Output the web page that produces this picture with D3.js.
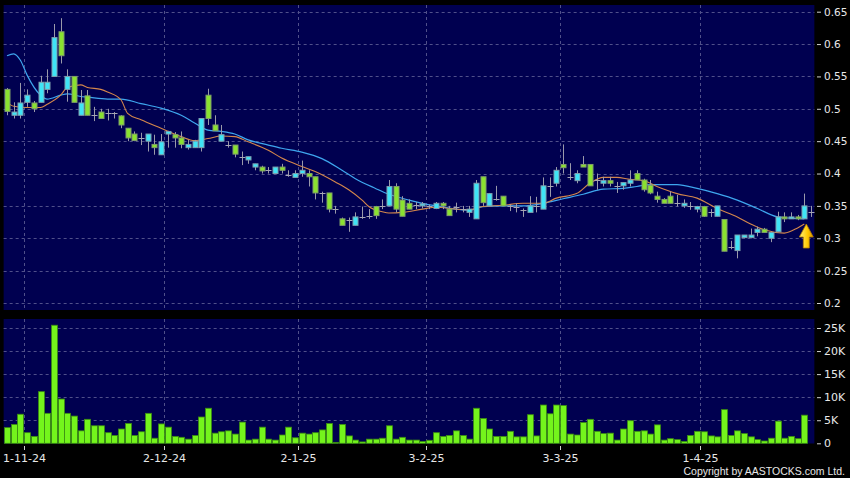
<!DOCTYPE html>
<html><head><meta charset="utf-8">
<script src="https://cdn.jsdelivr.net/npm/d3@7"></script>
<style>body{margin:0;background:#000;}svg{display:block;}</style>
</head><body>
<svg id="c" width="850" height="478"></svg>
<script>
// Trading days (categories)
const dates = ["29-10-24","30-10-24","31-10-24",
"1-11-24","4-11-24","5-11-24","6-11-24","7-11-24","8-11-24","11-11-24","12-11-24","13-11-24","14-11-24","15-11-24","18-11-24","19-11-24","20-11-24","21-11-24","22-11-24","25-11-24","26-11-24","27-11-24","28-11-24","29-11-24",
"2-12-24","3-12-24","4-12-24","5-12-24","6-12-24","9-12-24","10-12-24","11-12-24","12-12-24","13-12-24","16-12-24","17-12-24","18-12-24","19-12-24","20-12-24","23-12-24","24-12-24","27-12-24","30-12-24","31-12-24",
"2-1-25","3-1-25","6-1-25","7-1-25","8-1-25","9-1-25","10-1-25","13-1-25","14-1-25","15-1-25","16-1-25","17-1-25","20-1-25","21-1-25","22-1-25","23-1-25","24-1-25","27-1-25","28-1-25",
"3-2-25","4-2-25","5-2-25","6-2-25","7-2-25","10-2-25","11-2-25","12-2-25","13-2-25","14-2-25","17-2-25","18-2-25","19-2-25","20-2-25","21-2-25","24-2-25","25-2-25","26-2-25","27-2-25","28-2-25",
"3-3-25","4-3-25","5-3-25","6-3-25","7-3-25","10-3-25","11-3-25","12-3-25","13-3-25","14-3-25","17-3-25","18-3-25","19-3-25","20-3-25","21-3-25","24-3-25","25-3-25","26-3-25","27-3-25","28-3-25","31-3-25",
"1-4-25","2-4-25","3-4-25","7-4-25","8-4-25","9-4-25","10-4-25","11-4-25","14-4-25","15-4-25","16-4-25","17-4-25","22-4-25","23-4-25","24-4-25","25-4-25","28-4-25"];

const open = [.530,.490,.490,.510,.509,.510,.530,.550,.619,.530,
 .550,.490,.520,.490,.495,.493,.493,.489,.470,.461,
 .455,.450,.445,.429,.461,.460,.455,.440,.440,.440,
 .521,.475,.450,.444,.444,.426,.421,.410,.410,.405,
 .400,.410,.398,.394,.400,.400,.395,.370,.370,.345,
 .330,.328,.320,.333,.335,.349,.350,.350,.380,.359,
 .354,.352,.350,.350,.346,.354,.345,.348,.345,.340,
 .330,.395,.350,.360,.365,.350,.348,.344,.340,.350,
 .345,.380,.385,.414,.395,.389,.414,.414,.390,.385,
 .389,.380,.381,.385,.400,.390,.382,.365,.360,.365,
 .354,.350,.350,.345,.349,.340,.334,.329,.287,.281,
 .301,.301,.309,.314,.300,.310,.333,.330,.333,.330,
 .341];
const high = [.532,.510,.540,.530,.512,.551,.561,.631,.640,.561,
 .550,.529,.529,.503,.500,.500,.495,.490,.470,.465,
 .463,.461,.460,.461,.466,.464,.465,.452,.452,.485,
 .531,.490,.475,.450,.444,.434,.426,.415,.412,.410,
 .410,.415,.405,.405,.420,.405,.395,.372,.370,.350,
 .332,.332,.340,.349,.345,.350,.360,.390,.385,.365,
 .360,.356,.356,.352,.356,.356,.350,.355,.350,.350,
 .390,.395,.370,.381,.365,.352,.354,.346,.365,.364,
 .394,.394,.410,.445,.416,.405,.427,.414,.400,.395,
 .395,.387,.386,.405,.405,.392,.390,.372,.362,.372,
 .367,.360,.356,.350,.350,.345,.350,.329,.296,.305,
 .305,.315,.318,.316,.310,.341,.340,.340,.336,.369,
 .350];
const low = [.490,.485,.485,.503,.495,.510,.524,.550,.570,.511,
 .510,.490,.490,.481,.485,.482,.485,.470,.450,.450,
 .444,.434,.429,.429,.440,.440,.439,.437,.440,.434,
 .475,.466,.450,.440,.425,.413,.415,.405,.400,.400,
 .400,.400,.395,.394,.395,.380,.360,.355,.340,.338,
 .320,.310,.320,.330,.330,.330,.345,.350,.340,.334,
 .345,.345,.346,.345,.345,.345,.335,.340,.340,.333,
 .330,.350,.350,.358,.350,.342,.340,.333,.340,.340,
 .345,.364,.380,.400,.390,.385,.410,.381,.375,.380,
 .380,.370,.375,.380,.390,.372,.368,.355,.354,.354,
 .349,.347,.344,.340,.333,.333,.334,.280,.283,.269,
 .300,.300,.303,.309,.294,.310,.325,.330,.328,.330,
 .333];
const close = [.496,.495,.509,.521,.500,.541,.541,.610,.582,.550,
 .510,.509,.490,.490,.485,.493,.493,.475,.455,.451,
 .455,.461,.440,.449,.465,.455,.445,.445,.450,.485,
 .485,.466,.460,.444,.430,.426,.426,.415,.404,.405,
 .410,.405,.398,.400,.405,.395,.370,.370,.345,.345,
 .320,.328,.333,.333,.335,.335,.350,.380,.345,.334,
 .345,.352,.353,.350,.354,.350,.335,.348,.345,.345,
 .385,.355,.369,.360,.350,.350,.348,.344,.350,.350,
 .381,.380,.405,.409,.395,.400,.410,.381,.390,.389,
 .385,.380,.386,.390,.390,.375,.370,.360,.354,.354,
 .354,.354,.350,.349,.334,.340,.350,.280,.287,.305,
 .305,.305,.314,.309,.309,.333,.330,.333,.330,.350,
 .341];
const volume = [3400,4100,6300,2300,1500,11200,6500,25600,9600,6500,
 5900,2700,5200,3800,3800,2300,1700,3100,4300,1700,
 2500,6500,1100,4200,3500,1500,1300,900,1700,5700,
 7600,2200,2500,2700,2000,4600,700,900,3500,900,
 700,1800,3500,1200,2200,2000,2300,2900,4300,200,
 4100,1600,700,300,900,900,1100,3800,900,1300,
 700,700,400,650,2300,1500,1700,2700,1700,900,
 7600,5400,3100,1500,1500,2600,1400,1400,6200,1600,
 8300,6400,8300,8200,2000,1800,4500,5200,2600,2100,
 2200,700,3100,4900,2600,2700,2000,4000,700,1000,
 800,400,1700,2600,2500,1600,1400,7300,1700,2700,
 2100,1400,800,500,1100,4800,1100,1500,1000,6100,
 0];

// Moving averages (day index -> value)
const ma20Day = [0,1,2,3,5,6,8,9,11,12,15,17,20,23,26,28,30,32,34,36,39,41,44,47,50,52,55,57,60,62,64,67,69,71,74,77,80,83,86,89,92,94,96,100,103,106,109,112,115,117,119];
const ma20 = [.582,.585,.575,.552,.521,.515,.521,.523,.519,.518,.515,.515,.508,.501,.490,.478,.467,.465,.461,.452,.444,.439,.433,.423,.405,.392,.377,.368,.359,.354,.350,.345,.343,.349,.350,.350,.354,.361,.368,.376,.377,.380,.383,.383,.377,.369,.359,.346,.333,.331,.330];
const ma10Day = [0,1,3,5,6,8,9,11,12,14,15,17,18,20,23,26,28,30,32,34,36,39,41,44,46,49,51,53,54,56,57,59,62,64,67,69,71,74,77,80,82,85,87,89,91,93,95,97,100,103,106,109,111,113,116,118,119];
const ma10 = [.510,.504,.502,.502,.507,.521,.533,.537,.533,.530,.526,.514,.493,.483,.470,.457,.451,.454,.458,.457,.449,.436,.424,.411,.403,.387,.375,.359,.349,.341,.339,.340,.345,.348,.345,.344,.349,.351,.354,.354,.362,.369,.385,.394,.394,.391,.389,.380,.369,.362,.346,.333,.322,.313,.308,.316,.322];

const priceTicks = [0.65,0.6,0.55,0.5,0.45,0.4,0.35,0.3,0.25,0.2];
const volTicks = [0,5000,10000,15000,20000,25000];
const dateTicks = ["1-11-24","2-12-24","2-1-25","3-2-25","3-3-25","1-4-25"];

const svg = d3.select("#c");
const x = d3.scaleBand().domain(dates).range([3.65, 814.35]).padding(0);
const bw = x.bandwidth();
const y = d3.scaleLinear().domain([0.2, 0.65]).range([303, 11.7]);
const yv = d3.scaleLinear().domain([0, 25000]).range([443.3, 328]);
const [x0, x1] = x.range();
const P = {top: 5, bottom: 310}, V = {top: 319, bottom: 443.5};
const navy = "#000050", grid = "#50508a";

svg.append("rect").attr("x", x0).attr("y", P.top).attr("width", x1 - x0).attr("height", P.bottom - P.top).attr("fill", navy);
svg.append("rect").attr("x", x0).attr("y", V.top).attr("width", x1 - x0).attr("height", V.bottom - V.top).attr("fill", navy);

const defs = svg.append("defs");
defs.append("clipPath").attr("id", "pclip").append("rect").attr("x", x0).attr("y", P.top).attr("width", x1 - x0).attr("height", P.bottom - P.top);
const grad = defs.append("linearGradient").attr("id", "ag").attr("x1", 0).attr("y1", 0).attr("x2", 1).attr("y2", 0);
grad.append("stop").attr("offset", "0%").attr("stop-color", "#fff27a");
grad.append("stop").attr("offset", "60%").attr("stop-color", "#ffc800");
grad.append("stop").attr("offset", "100%").attr("stop-color", "#d99400");

// grid
const g = svg.append("g").attr("stroke", grid).attr("stroke-dasharray", "3,3").attr("stroke-width", 1);
priceTicks.forEach(t => g.append("line").attr("x1", x0).attr("x2", x1).attr("y1", Math.round(y(t)) + 0.5).attr("y2", Math.round(y(t)) + 0.5));
volTicks.filter(t => t > 0).forEach(t => g.append("line").attr("x1", x0).attr("x2", x1).attr("y1", Math.round(yv(t)) + 0.5).attr("y2", Math.round(yv(t)) + 0.5));
dateTicks.forEach(d => {
  const xx = Math.round(x(d)) + 0.5;
  g.append("line").attr("x1", xx).attr("x2", xx).attr("y1", P.top).attr("y2", P.bottom);
  g.append("line").attr("x1", xx).attr("x2", xx).attr("y1", V.top).attr("y2", V.bottom);
});

// MA lines
const mg = svg.append("g").attr("clip-path", "url(#pclip)");
const line = d3.line().x(d => x(dates[d[0]]) + bw / 2).y(d => y(d[1])).curve(d3.curveMonotoneX);
mg.append("path").attr("d", line(ma20Day.map((d, i) => [d, ma20[i]]))).attr("fill", "none").attr("stroke", "#3ea6ee").attr("stroke-width", 1.2);
mg.append("path").attr("d", line(ma10Day.map((d, i) => [d, ma10[i]]))).attr("fill", "none").attr("stroke", "#d4874c").attr("stroke-width", 1.1);

// candles
const cg = svg.append("g");
dates.forEach((d, i) => {
  const cx = Math.round(x(d) + bw / 2) + 0.5;
  cg.append("line").attr("x1", cx).attr("x2", cx).attr("y1", y(high[i])).attr("y2", y(low[i])).attr("stroke", "#9a9aaa").attr("stroke-width", 1);
  const o = open[i], c = close[i];
  if (o === c) {
    cg.append("line").attr("x1", cx - 3).attr("x2", cx + 3).attr("y1", Math.round(y(o)) + 0.5).attr("y2", Math.round(y(o)) + 0.5).attr("stroke", "#a6a6b4").attr("stroke-width", 1);
  } else {
    const up = c > o;
    const yt = y(Math.max(o, c)), yb = y(Math.min(o, c));
    cg.append("rect").attr("x", cx - 2.5).attr("y", yt).attr("width", 5).attr("height", Math.max(1, yb - yt))
      .attr("fill", up ? "#3fe4f6" : "#8ae230").attr("stroke", up ? "#7f9fae" : "#7f9d6a").attr("stroke-width", 1);
  }
});

// volume bars
const vg = svg.append("g");
dates.forEach((d, i) => {
  if (volume[i] <= 0) return;
  const cx = Math.round(x(d) + bw / 2);
  const top = yv(volume[i]);
  vg.append("rect").attr("x", cx - 2.5).attr("y", top).attr("width", 6).attr("height", yv(0) - top)
    .attr("fill", "#74f41c").attr("stroke", "#3b8c12").attr("stroke-width", 0.8);
});

// arrow at last MA10 point
const lastI = ma10Day[ma10Day.length - 1];
const ax = x(dates[lastI]) + bw / 2 + 2, ay = y(ma10[ma10.length - 1]);
svg.append("path")
  .attr("d", `M${ax},${ay} L${ax + 7},${ay + 13} L${ax + 3},${ay + 13} L${ax + 3},${ay + 24} L${ax - 3},${ay + 24} L${ax - 3},${ay + 13} L${ax - 7},${ay + 13} Z`)
  .attr("fill", "url(#ag)").attr("stroke", "#b07a00").attr("stroke-width", 0.8);

// axes
const font = "DejaVu Sans, Verdana, sans-serif";
const pa = svg.append("g").attr("transform", "translate(817,0)")
  .call(d3.axisRight(y).tickValues(priceTicks).tickSize(4).tickPadding(3).tickFormat(d3.format(".2~f")));
const va = svg.append("g").attr("transform", "translate(817,0)")
  .call(d3.axisRight(yv).tickValues(volTicks).tickSize(4).tickPadding(3).tickFormat(d => d === 0 ? "0" : (d / 1000) + "K"));
[pa, va].forEach(a => {
  a.select(".domain").remove();
  a.selectAll("line").attr("stroke", "#d0d0d0");
  a.selectAll("text").attr("fill", "#e8e8e8").style("font-family", font).style("font-size", "11px");
});
pa.selectAll("text").style("font-size", "10.5px");

const da = svg.append("g");
dateTicks.forEach(d => {
  const xx = Math.round(x(d)) + 0.5;
  da.append("line").attr("x1", xx).attr("x2", xx).attr("y1", 446).attr("y2", 450).attr("stroke", "#d0d0d0");
  da.append("text").attr("x", xx).attr("y", 462).attr("text-anchor", "middle").attr("fill", "#e8e8e8")
    .style("font-family", font).style("font-size", "11px").text(d);
});

svg.append("text").attr("x", 845).attr("y", 475).attr("text-anchor", "end").attr("fill", "#e8e8e8")
  .style("font-family", "Liberation Sans, Arial, sans-serif").style("font-size", "10.5px").text("Copyright by AASTOCKS.com Ltd.");
</script>
</body></html>
